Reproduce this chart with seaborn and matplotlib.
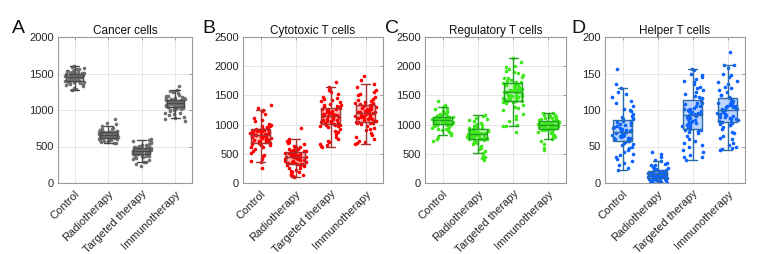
import numpy as np
import pandas as pd
import matplotlib
matplotlib.use("Agg")
import matplotlib.pyplot as plt
import seaborn as sns

groups = ["Control", "Radiotherapy", "Targeted therapy", "Immunotherapy"]

cancer_control = [1452, 1398, 1510, 1433, 1475, 1362, 1540, 1418, 1489, 1301, 1467, 1385, 1522, 1445, 1408, 1556, 1391, 1478, 1430, 1497, 1350, 1463, 1412, 1535, 1440, 1375, 1502, 1458, 1423, 1571, 1388, 1481, 1327, 1449, 1517, 1403, 1466, 1437, 1594, 1395, 1528, 1455, 1371, 1490, 1427, 1509, 1283, 1461, 1415, 1546, 1443, 1380, 1473, 1338, 1505, 1421, 1565, 1457, 1399, 1484, 1270, 1436, 1526, 1410, 1470, 1600, 1392, 1447, 1513, 1365]
cancer_radio = [652, 611, 688, 634, 705, 598, 671, 645, 560, 722, 623, 659, 690, 604, 742, 638, 668, 581, 715, 649, 627, 695, 612, 760, 641, 677, 592, 656, 703, 619, 785, 664, 547, 636, 682, 607, 729, 651, 624, 698, 575, 661, 643, 712, 617, 805, 655, 630, 686, 601, 739, 647, 668, 565, 694, 621, 658, 820, 633, 676, 589, 706, 640, 870, 662, 614, 683, 552, 648, 699]
cancer_target = [442, 398, 476, 421, 515, 365, 455, 430, 290, 498, 408, 462, 533, 387, 447, 412, 560, 436, 340, 481, 419, 452, 375, 507, 428, 466, 310, 493, 403, 440, 589, 395, 472, 425, 352, 458, 416, 520, 432, 260, 486, 384, 449, 545, 410, 468, 330, 438, 502, 391, 456, 422, 600, 370, 478, 445, 230, 414, 490, 435, 572, 401, 461, 426, 355, 484, 419, 450, 282, 510]
cancer_immuno = [1102, 1045, 1138, 1078, 1185, 990, 1120, 1062, 870, 1155, 1031, 1095, 1210, 1012, 1128, 1084, 1246, 1056, 940, 1143, 1070, 1110, 1005, 1172, 1090, 1118, 905, 1150, 1040, 1098, 1280, 1025, 1132, 1075, 965, 1106, 1050, 1195, 1088, 850, 1147, 1018, 1115, 1228, 1060, 1124, 930, 1093, 1162, 1035, 1108, 1067, 1330, 998, 1140, 1082, 885, 1052, 1158, 1100, 1262, 1028, 1112, 1072, 955, 1135, 1048, 1168, 1010, 1092]

cyto_control = [820, 705, 912, 760, 1010, 590, 865, 742, 360, 935, 680, 842, 1120, 655, 888, 798, 1250, 725, 480, 952, 771, 830, 620, 980, 808, 876, 410, 925, 690, 815, 1190, 670, 902, 785, 540, 858, 738, 1060, 812, 250, 945, 665, 848, 1290, 752, 895, 455, 826, 968, 700, 870, 780, 1330, 610, 918, 803, 385, 730, 1080, 835, 1230, 645, 890, 765, 510, 940, 718, 1000, 690, 852]
cyto_radio = [452, 340, 520, 398, 610, 230, 478, 372, 120, 548, 318, 465, 700, 290, 505, 420, 745, 355, 180, 562, 410, 470, 265, 590, 435, 498, 140, 540, 330, 446, 680, 305, 515, 388, 210, 488, 365, 640, 440, 100, 555, 300, 460, 720, 380, 508, 160, 428, 575, 345, 482, 415, 940, 250, 530, 458, 130, 362, 620, 444, 660, 325, 495, 405, 195, 550, 350, 600, 310, 470]
cyto_target = [1152, 1010, 1280, 1085, 1400, 840, 1210, 1060, 640, 1305, 985, 1175, 1520, 930, 1250, 1120, 1650, 1040, 720, 1330, 1098, 1185, 890, 1380, 1135, 1230, 660, 1315, 995, 1160, 1590, 960, 1270, 1075, 790, 1200, 1050, 1460, 1145, 620, 1340, 975, 1190, 1730, 1080, 1260, 700, 1168, 1360, 1020, 1225, 1110, 1440, 870, 1295, 1155, 650, 1065, 1420, 1170, 1560, 1000, 1245, 1090, 760, 1320, 1030, 1480, 980, 1205]
cyto_immuno = [1202, 1060, 1330, 1135, 1440, 900, 1260, 1110, 680, 1345, 1035, 1225, 1560, 980, 1290, 1170, 1700, 1090, 780, 1375, 1148, 1235, 940, 1420, 1185, 1280, 720, 1360, 1045, 1210, 1640, 1010, 1320, 1125, 850, 1250, 1100, 1500, 1195, 670, 1390, 1025, 1240, 1770, 1130, 1310, 760, 1218, 1410, 1070, 1275, 1160, 1830, 920, 1340, 1205, 700, 1115, 1470, 1220, 1600, 1050, 1295, 1140, 820, 1365, 1080, 1520, 1030, 1255]

treg_control = [1072, 1005, 1130, 1040, 1195, 930, 1100, 1025, 820, 1148, 995, 1085, 1260, 960, 1115, 1058, 1340, 1015, 880, 1162, 1048, 1092, 945, 1180, 1065, 1122, 760, 1140, 1000, 1078, 1300, 975, 1108, 1035, 905, 1095, 1020, 1225, 1068, 720, 1155, 990, 1088, 1400, 1045, 1118, 860, 1075, 1170, 1010, 1105, 1055, 1280, 920, 1135, 1070, 790, 1030, 1210, 1082, 1240, 985, 1112, 1050, 900, 1145, 1018, 1190, 1002, 1098]
treg_radio = [842, 760, 915, 800, 990, 640, 870, 780, 450, 935, 745, 855, 1080, 700, 895, 820, 1150, 770, 540, 950, 812, 862, 680, 970, 835, 905, 470, 925, 750, 848, 1120, 720, 888, 795, 600, 865, 765, 1030, 838, 400, 940, 740, 858, 1170, 790, 900, 510, 845, 960, 755, 875, 815, 1100, 660, 920, 840, 430, 775, 1010, 852, 1060, 735, 892, 805, 580, 930, 760, 1000, 745, 868]
treg_target = [1562, 1420, 1690, 1490, 1820, 1250, 1610, 1460, 980, 1720, 1395, 1585, 1960, 1340, 1650, 1530, 2080, 1440, 1100, 1745, 1505, 1595, 1300, 1790, 1550, 1640, 1000, 1725, 1405, 1570, 2010, 1370, 1680, 1480, 1180, 1620, 1450, 1880, 1555, 870, 1760, 1385, 1600, 2140, 1490, 1670, 1060, 1575, 1800, 1425, 1635, 1520, 1920, 1280, 1710, 1565, 970, 1470, 1850, 1580, 1990, 1410, 1660, 1500, 1150, 1730, 1435, 1900, 1400, 1615]
treg_immuno = [1002, 935, 1060, 970, 1130, 850, 1025, 955, 720, 1075, 925, 1012, 1170, 890, 1045, 985, 1195, 945, 780, 1088, 978, 1020, 870, 1110, 995, 1052, 600, 1070, 930, 1008, 1160, 905, 1040, 965, 820, 1030, 950, 1140, 998, 570, 1080, 920, 1015, 1200, 975, 1050, 660, 1005, 1100, 940, 1035, 990, 1185, 860, 1065, 1000, 750, 958, 1120, 1018, 1150, 915, 1042, 982, 800, 1078, 948, 1125, 922, 1028]

helper_control = [71, 58, 85, 64, 98, 42, 77, 62, 20, 88, 55, 73, 118, 48, 81, 68, 130, 60, 30, 92, 66, 75, 38, 105, 70, 83, 25, 90, 57, 72, 125, 52, 80, 65, 35, 78, 61, 110, 69, 18, 95, 54, 74, 156, 63, 82, 28, 71, 100, 59, 79, 67, 136, 45, 87, 70, 33, 62, 112, 73, 122, 50, 84, 66, 40, 89, 60, 102, 56, 76]
helper_radio = [12, 7, 16, 10, 21, 3, 14, 9, 0, 18, 6, 13, 28, 4, 15, 11, 35, 8, 1, 19, 10, 13, 2, 24, 12, 15, 0, 17, 7, 12, 30, 5, 16, 10, 2, 14, 9, 26, 12, 0, 18, 6, 13, 42, 9, 15, 1, 11, 22, 8, 14, 11, 40, 3, 17, 12, 0, 8, 25, 13, 32, 6, 15, 10, 3, 18, 8, 20, 6, 14]
helper_target = [94, 76, 112, 85, 130, 55, 100, 82, 35, 118, 72, 96, 145, 65, 108, 90, 155, 80, 45, 122, 87, 98, 60, 135, 92, 105, 38, 117, 74, 95, 150, 68, 110, 84, 50, 101, 79, 140, 93, 32, 125, 71, 97, 156, 83, 109, 42, 94, 132, 77, 103, 89, 148, 58, 115, 93, 36, 81, 138, 99, 142, 70, 106, 86, 52, 119, 78, 128, 73, 102]
helper_immuno = [101, 84, 115, 93, 132, 65, 106, 90, 45, 120, 81, 103, 150, 74, 111, 97, 162, 88, 52, 125, 95, 104, 70, 138, 100, 110, 48, 118, 83, 102, 158, 77, 113, 92, 60, 107, 87, 145, 99, 46, 128, 80, 104, 179, 91, 112, 55, 100, 135, 85, 108, 96, 162, 68, 117, 100, 50, 89, 140, 105, 148, 79, 109, 94, 62, 121, 86, 130, 82, 106]

panels = [
    ("A", "Cancer cells", [cancer_control, cancer_radio, cancer_target, cancer_immuno],
     2000, 500, "#6f6f6f", "#4a4a4a"),
    ("B", "Cytotoxic T cells", [cyto_control, cyto_radio, cyto_target, cyto_immuno],
     2500, 500, "#ff0000", "#a83232"),
    ("C", "Regulatory T cells", [treg_control, treg_radio, treg_target, treg_immuno],
     2500, 500, "#3ee81c", "#22a022"),
    ("D", "Helper T cells", [helper_control, helper_radio, helper_target, helper_immuno],
     200, 50, "#0a62ff", "#2b6aa8"),
]

# axes boxes in pixels: left, width
boxes = [(58, 134), (243, 140), (425, 141), (605, 140)]
letter_x = [12, 202, 385, 571]

sns.set_style("whitegrid")
plt.rcParams["font.family"] = ["Liberation Sans", "DejaVu Sans"]

W, H = 769, 254
fig = plt.figure(figsize=(W / 100, H / 100), dpi=100)

np.random.seed(3)
for (letter, title, vals, ymax, ystep, pcol, ecol), (lx, lw), tx in zip(panels, boxes, letter_x):
    ax = fig.add_axes([lx / W, 1 - 183 / H, lw / W, 146 / H])
    df = pd.DataFrame({
        "group": np.repeat(groups, [len(v) for v in vals]),
        "value": np.concatenate(vals),
    })
    sns.stripplot(data=df, x="group", y="value", order=groups, color=pcol,
                  jitter=0.3, size=2.6, linewidth=0, ax=ax, zorder=2)
    sns.boxplot(data=df, x="group", y="value", order=groups, color=pcol,
                linecolor=ecol, linewidth=1.0, width=0.52, showfliers=False,
                ax=ax, zorder=3)
    for p in ax.patches:
        p.set_facecolor(matplotlib.colors.to_rgba(pcol, 0.27))
        p.set_zorder(3)
    ax.set_xlim(-0.5, 3.5)
    ax.set_ylim(0, ymax)
    ax.set_yticks(np.arange(0, ymax + 1, ystep))
    ax.set_xlabel("")
    ax.set_ylabel("")
    ax.set_title(title, fontsize=8.5, pad=2, color="#111111")
    ax.set_xticks(range(4))
    ax.set_xticklabels(groups, rotation=45, ha="right", rotation_mode="anchor")
    ax.tick_params(axis="both", labelsize=8, colors="#8c8c8c", labelcolor="#262626",
                   direction="in", length=2.5, width=0.6, pad=3, top=True, right=True)
    ax.tick_params(axis="x", pad=4)
    ax.grid(True, color="#e3e3e3", linewidth=0.6)
    ax.set_axisbelow(True)
    for s in ax.spines.values():
        s.set_visible(True)
        s.set_color("#9a9a9a")
        s.set_linewidth(0.8)
    fig.text(tx / W, 1 - 33 / H, letter, fontsize=14, color="#111111", va="baseline")

fig.savefig("out.png", dpi=100, facecolor="white")
